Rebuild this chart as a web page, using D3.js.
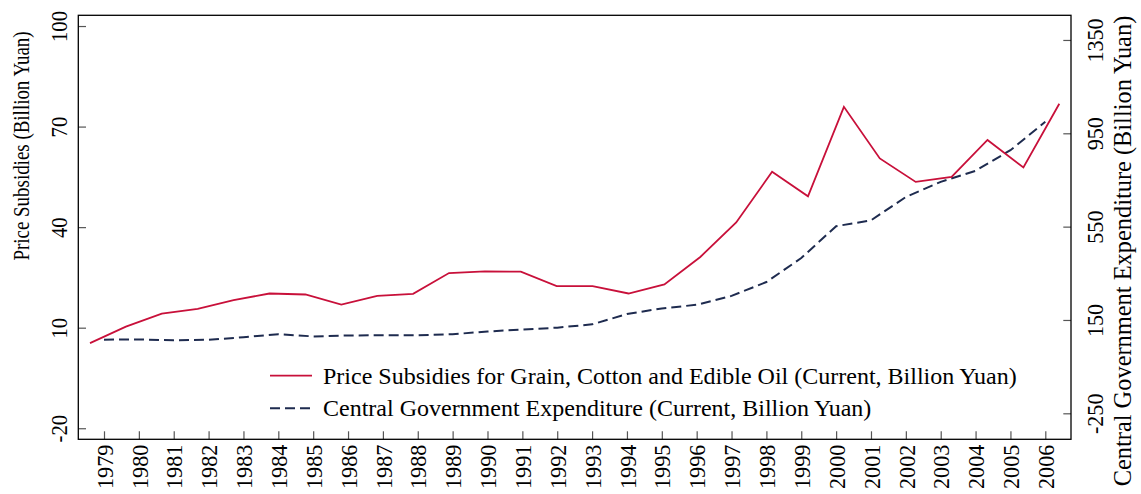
<!DOCTYPE html>
<html>
<head>
<meta charset="utf-8">
<script src="https://cdn.jsdelivr.net/npm/d3@7"></script>
<style>
  body { margin: 0; background: #fff; }
  svg { display: block; font-family: "Liberation Serif", "Times New Roman", serif; }
</style>
</head>
<body>
<svg id="chart" width="1141" height="494"></svg>
<script>
const years = d3.range(1979, 2007);
// Price subsidies for grain, cotton and edible oil (billion yuan, left axis)
const subsidies = [5.4, 10.3, 14.2, 15.6, 18.2, 20.2, 19.9, 16.9, 19.5, 20.1,
  26.3, 26.8, 26.7, 22.4, 22.4, 20.2, 22.9, 31.1, 41.4, 56.5,
  49.2, 75.9, 60.5, 53.5, 55.0, 66.0, 57.8, 76.8];
// Central government expenditure (billion yuan, right axis)
const expenditure = [65.5, 66.7, 62.6, 65.2, 76.0, 89.3, 79.5, 83.6, 84.6, 84.5,
  88.9, 100.5, 109.1, 117.0, 131.2, 175.4, 199.5, 215.1, 253.3, 312.6,
  415.2, 552.0, 576.8, 677.2, 742.0, 789.4, 877.6, 999.1];
const leftTicks = [-20, 10, 40, 70, 100];
const rightTicks = [-250, 150, 550, 950, 1350];

const svg = d3.select("#chart");
const frame = { left: 78.3, right: 1071, top: 15.3, bottom: 439.3 };
const red = "#c8103a";
const navy = "#1e2b4f";
const serif = "'Liberation Serif', 'Times New Roman', serif";

const xTick = d3.scaleLinear().domain([1979, 2006]).range([frame.left + 25.7, frame.right - 25.7]);
const xRed = d3.scaleLinear().domain([1979, 2006]).range([frame.left + 11.7, frame.right - 11.7]);
const yLeft = d3.scaleLinear().domain([-23.3, 103.2]).range([frame.bottom, frame.top]);
const yRight = d3.scaleLinear().domain([-361.4, 1455.7]).range([frame.bottom, frame.top]);

function styleTicks(g) {
  g.attr("font-family", serif).attr("font-size", null);
  g.select(".domain").remove();
  g.selectAll(".tick line").attr("stroke", "#555").attr("stroke-width", 1.2);
  g.selectAll(".tick text").attr("fill", "#000");
}

// left axis
svg.append("g")
  .attr("transform", `translate(${frame.left},0)`)
  .call(d3.axisLeft(yLeft).tickValues(leftTicks).tickFormat((d) => String(d)).tickSize(-7.7))
  .call(styleTicks)
  .call((g) => g.selectAll(".tick text")
    .attr("x", null).attr("dy", null)
    .attr("transform", `translate(${67 - frame.left},0) rotate(-90) scale(0.86,1)`)
    .style("text-anchor", "middle")
    .style("font-size", "24px"));

// right axis
svg.append("g")
  .attr("transform", `translate(${frame.right},0)`)
  .call(d3.axisRight(yRight).tickValues(rightTicks).tickFormat((d) => String(d)).tickSize(-7.7))
  .call(styleTicks)
  .call((g) => g.selectAll(".tick text")
    .attr("x", null).attr("dy", null)
    .attr("transform", `translate(${1103 - frame.right},0) rotate(-90) scale(0.92,1)`)
    .style("text-anchor", "middle")
    .style("font-size", "24px"));

// bottom axis
svg.append("g")
  .attr("transform", `translate(0,${frame.bottom})`)
  .call(d3.axisBottom(xTick).tickValues(years).tickFormat(d3.format("d")).tickSize(-8))
  .call(styleTicks)
  .call((g) => g.selectAll(".tick text")
    .attr("y", 0).attr("x", -6).attr("dy", "0.34em")
    .attr("transform", "rotate(-90) scale(0.92,1)")
    .style("text-anchor", "end")
    .style("font-size", "24px"));

// frame
svg.append("rect")
  .attr("x", frame.left)
  .attr("y", frame.top)
  .attr("width", frame.right - frame.left)
  .attr("height", frame.bottom - frame.top)
  .attr("fill", "none")
  .attr("stroke", "#000")
  .attr("stroke-width", 1.3);

// axis titles
svg.append("text")
  .attr("transform", "translate(29,146) rotate(-90) scale(0.79,1)")
  .attr("text-anchor", "middle")
  .style("font-size", "24px")
  .text("Price Subsidies (Billion Yuan)");

svg.append("text")
  .attr("transform", "translate(1131,251) rotate(-90)")
  .attr("text-anchor", "middle")
  .style("font-size", "24.4px")
  .text("Central Government Expenditure (Billion Yuan)");

// lines
const expLine = d3.line()
  .x((d, i) => xTick(years[i]))
  .y((d) => yRight(d));

const subLine = d3.line()
  .x((d, i) => xRed(years[i]))
  .y((d) => yLeft(d));

svg.append("path")
  .datum(expenditure)
  .attr("d", expLine)
  .attr("fill", "none")
  .attr("stroke", navy)
  .attr("stroke-width", 2)
  .attr("stroke-dasharray", "10,5");

svg.append("path")
  .datum(subsidies)
  .attr("d", subLine)
  .attr("fill", "none")
  .attr("stroke", red)
  .attr("stroke-width", 1.8);

// legend
const legendItems = [
  { label: "Price Subsidies for Grain, Cotton and Edible Oil (Current, Billion Yuan)", color: red, dash: null, y: 375.7 },
  { label: "Central Government Expenditure (Current, Billion Yuan)", color: navy, dash: "10,5", y: 408.3 },
];

const legend = svg.append("g");
legendItems.forEach((item) => {
  legend.append("line")
    .attr("x1", 270)
    .attr("x2", 312)
    .attr("y1", item.y)
    .attr("y2", item.y)
    .attr("stroke", item.color)
    .attr("stroke-width", item.dash ? 2 : 1.8)
    .attr("stroke-dasharray", item.dash);
  legend.append("text")
    .attr("x", 323)
    .attr("y", item.y + 8)
    .style("font-size", "24px")
    .text(item.label);
});
</script>
</body>
</html>
